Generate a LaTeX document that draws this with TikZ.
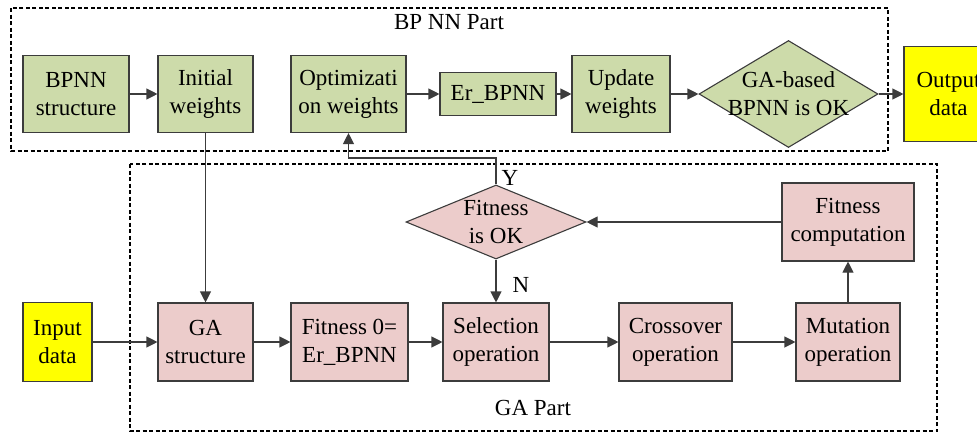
\documentclass[tikz,border=0pt]{standalone}
\usepackage{fontspec}
\setmainfont{Liberation Serif}
\usetikzlibrary{arrows.meta,shapes.geometric}
\definecolor{nngreen}{RGB}{205,219,170}
\definecolor{gapink}{RGB}{236,204,203}
\definecolor{ioyellow}{RGB}{255,255,0}
\definecolor{linegray}{RGB}{60,60,60}

\begin{document}
\begin{tikzpicture}[x=1pt,y=-1pt,font=\fontsize{23}{28}\selectfont]
\tikzset{block/.style = {shape=rectangle,draw=linegray,line width=1.1pt,align=center,inner sep=0pt}}
\tikzset{nnblock/.style = {block,fill=nngreen}}
\tikzset{gablock/.style = {block,fill=gapink}}
\tikzset{ioblock/.style = {block,fill=ioyellow}}
\tikzset{decide/.style = {shape=diamond,draw=linegray,line width=1.1pt,inner sep=0pt}}
\tikzset{edge/.style = {-{Triangle[length=11pt,width=11pt]},draw=linegray,line width=1.1pt}}
\tikzset{part/.style = {draw=black,line width=2.2pt,dash pattern=on 4pt off 2.5pt}}
\useasboundingbox (0,0) rectangle (977,434);
\clip (0,0) rectangle (977,434);
% parts
\draw[part] (11,8) rectangle (888,151);
\draw[part] (130,164) rectangle (937,431);
\node (bpnnpart) at (449,22) {BP NN Part};
\node (gapart) at (533,408) {GA Part};
% vertices
\node[nnblock, minimum width=106pt, minimum height=77pt] (bpnn) at (76,94) {BPNN\\structure};
\node[nnblock, minimum width=95pt, minimum height=77pt] (initw) at (205.5,94) {Initial\\weights};
\node[nnblock, minimum width=115pt, minimum height=77pt] (optw) at (348.5,94) {Optimizati\\on weights};
\node[nnblock, minimum width=116pt, minimum height=43pt] (erbpnn) at (498,94) {Er\_BPNN};
\node[nnblock, minimum width=98pt, minimum height=77pt] (updw) at (621,94) {Update\\weights};
\node[decide, fill=nngreen, minimum width=179pt, minimum height=107pt,
  label={[align=center]center:{GA-based\\BPNN is OK}}] (gaok) at (788.5,94) {};
\node[ioblock, minimum width=89pt, minimum height=95pt] (outdata) at (948.5,94) {Output\\data};
\node[ioblock, minimum width=69pt, minimum height=79pt] (indata) at (57.5,342) {Input\\data};
\node[gablock, minimum width=95pt, minimum height=78pt] (gastruct) at (205.5,342) {GA\\structure};
\node[gablock, minimum width=117pt, minimum height=78pt] (fitzero) at (349.5,342) {Fitness 0=\\Er\_BPNN};
\node[gablock, minimum width=106pt, minimum height=78pt] (selop) at (496,342) {Selection\\operation};
\node[gablock, minimum width=113pt, minimum height=78pt] (crossop) at (675.5,342) {Crossover\\operation};
\node[gablock, minimum width=104pt, minimum height=78pt] (mutop) at (848,342) {Mutation\\operation};
\node[gablock, minimum width=132pt, minimum height=78pt] (fitcomp) at (848,222) {Fitness\\computation};
\node[decide, fill=gapink, minimum width=180pt, minimum height=74pt,
  label={[align=center]center:{Fitness\\is OK}}] (fitok) at (496,222) {};
\coordinate (ybend) at (496,158);
%edges
\draw[edge] (bpnn) -- (initw);
\draw[edge] (initw) -- (gastruct);
\draw[edge] (optw) -- (erbpnn);
\draw[edge] (erbpnn) -- (updw);
\draw[edge] (updw) -- (gaok);
\draw[edge] (gaok) -- (outdata);
\draw[edge] (indata) -- (gastruct);
\draw[edge] (gastruct) -- (fitzero);
\draw[edge] (fitzero) -- (selop);
\draw[edge] (selop) -- (crossop);
\draw[edge] (crossop) -- (mutop);
\draw[edge] (mutop) -- (fitcomp);
\draw[edge] (fitcomp) -- (fitok);
\draw[edge] (fitok) -- (selop);
\draw[edge] (fitok.north) -- (ybend) -| (optw.south);
\node (ylabel) at (510,178) {Y};
\node (nlabel) at (521,285) {N};
\end{tikzpicture}
\end{document}
